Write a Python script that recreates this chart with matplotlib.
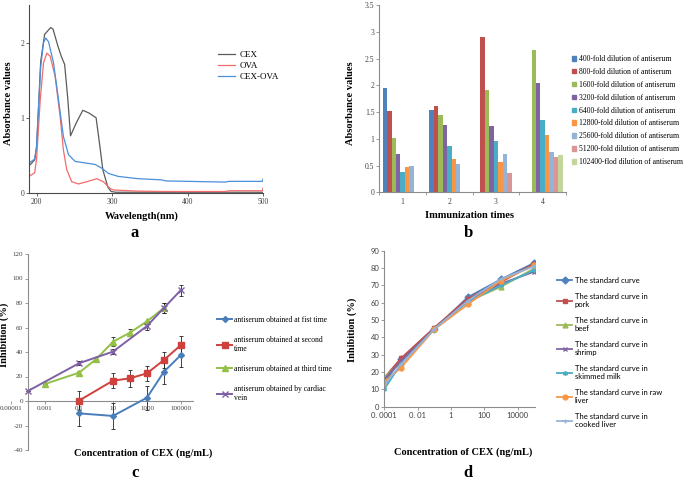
import numpy as np
import matplotlib
matplotlib.use("Agg")
import matplotlib.pyplot as plt
from matplotlib.patches import Patch
from matplotlib.ticker import NullLocator

plt.rcParams["font.family"] = ["Liberation Serif", "DejaVu Serif"]
plt.rcParams["axes.unicode_minus"] = False

# ---- panel a: UV spectra ----
wl_cex = [190, 197.5, 200, 205.5, 210.7, 218.7, 221.8, 228.4, 232.7, 237.2, 241.5, 245, 252.5,
          261.3, 270.1, 278.9, 283.4, 287.8, 294.4, 298.8, 305, 350, 400, 450, 500]
abs_cex = [0.36, 0.44, 0.6, 1.75, 2.11, 2.2, 2.18, 1.95, 1.82, 1.71, 1.24, 0.76, 0.93,
           1.1, 1.06, 1.0, 0.66, 0.31, 0.08, 0.02, 0.01, 0.01, 0.01, 0.01, 0.01]
wl_ova = [190, 197.5, 200, 204.9, 209.2, 213.6, 218, 224.6, 231.2, 235.6, 240, 246.6, 255.5,
          266.5, 279.7, 288.6, 297.4, 302, 334, 370, 400, 450, 455, 499, 500]
abs_ova = [0.22, 0.27, 0.45, 1.24, 1.73, 1.86, 1.82, 1.55, 1.02, 0.57, 0.31, 0.15, 0.12,
           0.15, 0.19, 0.15, 0.06, 0.04, 0.025, 0.02, 0.02, 0.02, 0.03, 0.03, 0.06]
wl_mix = [190, 197.5, 200, 205.5, 209.2, 212.3, 215.9, 222.5, 229.1, 235.6, 242.3, 251.1, 264.3,
          277.5, 286.4, 295.3, 308.5, 335, 365, 372, 400, 450, 455, 499, 500]
abs_mix = [0.4, 0.45, 0.62, 1.68, 2.0, 2.06, 2.01, 1.73, 1.24, 0.75, 0.51, 0.42, 0.4,
           0.38, 0.33, 0.26, 0.22, 0.19, 0.175, 0.16, 0.155, 0.145, 0.155, 0.155, 0.185]

# ---- panel b: titres ----
immunization = [1, 2, 3, 4]
dilutions = ["400", "800", "1600", "3200", "6400", "12800", "25600", "51200", "102400"]
nan = np.nan
titre = [
    [1.955, 1.54, nan, nan],
    [1.525, 1.62, 2.91, nan],
    [1.015, 1.44, 1.92, 2.665],
    [0.71, 1.25, 1.23, 2.04],
    [0.37, 0.865, 0.96, 1.345],
    [0.48, 0.63, 0.57, 1.065],
    [0.486, 0.52, 0.72, 0.747],
    [nan, nan, 0.355, 0.666],
    [nan, nan, nan, 0.697],
]
bar_colors = ["#4F81BD", "#C0504D", "#9BBB59", "#8064A2", "#4BACC6",
              "#F79646", "#95B3D7", "#D99694", "#C3D69B"]

# ---- panel c: inhibition of antisera ----
c_labels = ["antiserum obtained at fist time", "antiserum obtained at second\ntime",
            "antiserum obtained at third time", "antiserum obtained by cardiac\nvein"]
c_conc = [
    [0.1, 10, 1000, 10000, 100000],
    [0.1, 10, 100, 1000, 10000, 100000],
    [0.001, 0.1, 1, 10, 100, 1000, 10000],
    [0.0001, 0.1, 10, 1000, 10000, 100000],
]
c_inh = [
    [-10.1, -12.2, 2.7, 23.9, 37.6],
    [0.3, 16.6, 18.5, 22.6, 33.5, 45.7],
    [13.9, 23.1, 34.0, 48.4, 55.8, 65.0, 76.0],
    [8.2, 30.8, 40.3, 61.2, 76.0, 90.6],
]
c_err = [
    [10.0, 10.3, 9.8, 10.0, 9.6],
    [7.6, 6.0, 6.8, 6.2, 6.8, 7.3],
    [0, 1.0, 0.5, 3.5, 3.0, 0, 4.0],
    [0, 1.5, 2.0, 3.0, 4.0, 4.5],
]
c_colors = ["#4A7EBB", "#D0413E", "#93C047", "#7F5FA6"]
c_markers = ["D", "s", "^", "x"]
c_tick_vals = [1e-5, 1e-3, 1e-1, 10, 1000, 100000]
c_tick_text = ["0.00001", "0.001", "0.1", "10", "1000", "100000"]

# ---- panel d: standard curves in matrices ----
d_labels = ["The standard curve", "The standard curve in\npork", "The standard curve in\nbeef",
            "The standard curve in\nshrimp", "The standard curve in\nskimmed milk",
            "The standard curve in raw\nliver", "The standard curve in\ncooked liver"]
d_conc = [0.0001, 0.001, 0.1, 10, 1000, 100000]
d_inh = [
    [13.8, 27.3, 44.8, 63.1, 73.5, 83.0],
    [16.7, 27.9, 45.6, 62.3, 71.9, 82.5],
    [17.0, 25.4, 44.8, 60.6, 69.2, 79.8],
    [15.8, 26.3, 44.8, 61.3, 71.0, 77.9],
    [10.2, 24.6, 44.8, 60.4, 70.0, 78.8],
    [14.4, 22.5, 44.6, 59.0, 72.7, 81.5],
    [12.5, 24.4, 44.8, 61.0, 73.8, 81.0],
]
d_colors = ["#4F81BD", "#C0504D", "#9BBB59", "#8064A2", "#4BACC6", "#F79646", "#95B3D7"]
d_markers = ["D", "s", "^", "x", (6, 2, 0), "o", "+"]
d_tick_vals = [1e-4, 1e-2, 1, 100, 10000]
d_tick_text = ["0. 0001", "0. 01", "1", "100", "10000"]

W, H = 685, 480
TICK_COL = "#404040"
SPINE_COL = "#8c8c8c"
LABEL_KW = dict(fontsize=7.5, fontweight="bold")


def box(left, top, right, bottom):
    return [left / W, 1 - bottom / H, (right - left) / W, (bottom - top) / H]


def fig_anchor(x, y):
    return (x / W, 1 - y / H)


def style(ax, spine_col):
    for s in ["top", "right"]:
        ax.spines[s].set_visible(False)
    for s in ["left", "bottom"]:
        ax.spines[s].set_color(spine_col)
        ax.spines[s].set_linewidth(0.8)
    ax.tick_params(labelsize=5.5, colors=TICK_COL, length=2, width=0.6, pad=1.5)
    ax.tick_params(color=spine_col)


fig = plt.figure(figsize=(6.85, 4.8), dpi=100)

# a
ax = fig.add_axes(box(29, 5, 263, 193))
ax.plot(wl_cex, abs_cex, color="#5b5b5b", lw=0.9, label="CEX")
ax.plot(wl_ova, abs_ova, color="#f26b6b", lw=0.9, label="OVA")
ax.plot(wl_mix, abs_mix, color="#4a8fdc", lw=0.9, label="CEX-OVA")
ax.set_xlim(190, 500)
ax.set_ylim(0, 2.5)
ax.set_xticks([200, 300, 400, 500])
ax.set_yticks([0, 1, 2])
style(ax, "#4a4a4a")
ax.set_xlabel("Wavelength(nm)", **LABEL_KW)
ax.set_ylabel("Absorbance values", **LABEL_KW)
ax.xaxis.set_label_coords(0.481, -0.096)
ax.yaxis.set_label_coords(-0.067, 0.479)
ax.legend(loc="upper left", bbox_to_anchor=fig_anchor(218, 51), bbox_transform=fig.transFigure,
          frameon=False, fontsize=6.5, handlelength=1.9, handletextpad=0.55,
          labelspacing=0.3, borderpad=0, borderaxespad=0)
fig.text(135 / W, 1 - 233 / H, "a", fontsize=12, fontweight="bold", ha="center", va="center")

# b
ax = fig.add_axes(box(379.3, 5, 566, 192.3))
w = 1 / 10.5
cats = np.array(immunization, dtype=float)
for i, vals in enumerate(titre):
    ax.bar(cats + (i - 4) * w, vals, width=w, color=bar_colors[i], linewidth=0)
ax.set_xlim(0.5, 4.5)
ax.set_ylim(0, 3.5)
ax.set_yticks(np.arange(0, 3.51, 0.5))
ax.set_yticklabels(["{:g}".format(v) for v in np.arange(0, 3.51, 0.5)])
ax.set_xticks(immunization)
ax.set_xticks(np.arange(0.5, 4.6, 1), minor=True)
style(ax, SPINE_COL)
ax.tick_params(axis="x", which="major", length=0, pad=4)
ax.tick_params(axis="x", which="minor", length=2.5, width=0.6, color=SPINE_COL)
ax.set_xlabel("Immunization times", **LABEL_KW)
ax.set_ylabel("Absorbance values", **LABEL_KW)
ax.xaxis.set_label_coords(0.483, -0.1)
ax.yaxis.set_label_coords(-0.13, 0.476)
handles = [Patch(color=c) for c in bar_colors]
names = ["{}-fold dilution of antiserum".format(d) for d in dilutions[:-1]]
names.append("{}-flod dilution of antiserum".format(dilutions[-1]))
ax.legend(handles, names, loc="upper left", bbox_to_anchor=fig_anchor(572, 55),
          bbox_transform=fig.transFigure, frameon=False, fontsize=5.5, handlelength=0.55,
          handleheight=0.55, handletextpad=0.38, labelspacing=0.64, borderpad=0, borderaxespad=0)
fig.text(468 / W, 1 - 233 / H, "b", fontsize=12, fontweight="bold", ha="center", va="center")

# c
ax = fig.add_axes(box(2, 254, 193, 450))
ax.set_xscale("log")
for conc, inh, err, col, mk, lab in zip(c_conc, c_inh, c_err, c_colors, c_markers, c_labels):
    ax.errorbar(conc, inh, yerr=err, fmt="none", ecolor="#222222", elinewidth=0.6,
                capsize=1.5, capthick=0.6, zorder=2)
    ax.plot(conc, inh, color=col, lw=1.4, marker=mk, markersize=3.8 if mk != "D" else 3,
            markeredgewidth=1.0, label=lab, zorder=3)
ax.set_xlim(10 ** -5.53, 10 ** 5.71)
ax.set_ylim(-40, 120)
ax.set_yticks(range(-40, 121, 20))
ax.set_xticks(c_tick_vals)
ax.set_xticklabels(c_tick_text)
ax.xaxis.set_minor_locator(NullLocator())
style(ax, SPINE_COL)
ax.tick_params(labelsize=5)
ax.spines["left"].set_position(("data", 1e-4))
ax.spines["bottom"].set_position(("data", 0))
ax.spines["bottom"].set_bounds(1e-4, 10 ** 5.71)
ax.set_xlabel("Concentration of CEX (ng/mL)", **LABEL_KW)
ax.set_ylabel("Inhibition (%)", **LABEL_KW)
ax.xaxis.set_label_coords(0.737, 0.01)
ax.yaxis.set_label_coords(0.039, 0.587)
ax.legend(loc="upper left", bbox_to_anchor=fig_anchor(217, 316), bbox_transform=fig.transFigure,
          frameon=False, fontsize=5.5, handlelength=2.0, handletextpad=0.2,
          labelspacing=1.55, borderpad=0, borderaxespad=0)
fig.text(135 / W, 1 - 473 / H, "c", fontsize=12, fontweight="bold", ha="center", va="center")

# d
ax = fig.add_axes(box(384.3, 250.7, 535, 406.7))
ax.set_xscale("log")
for inh, col, mk, lab in zip(d_inh, d_colors, d_markers, d_labels):
    ax.plot(d_conc, inh, color=col, lw=1.3, marker=mk, markersize=3.5,
            markeredgewidth=1.0, label=lab)
ax.set_xlim(1e-4, 10 ** 5.04)
ax.set_ylim(0, 90)
ax.set_yticks(range(0, 91, 10))
ax.set_xticks(d_tick_vals)
ax.set_xticklabels(d_tick_text)
ax.xaxis.set_minor_locator(NullLocator())
style(ax, SPINE_COL)
for t in ax.get_xticklabels() + ax.get_yticklabels():
    t.set_fontfamily("Lato")
ax.set_xlabel("Concentration of CEX (ng/mL)", **LABEL_KW)
ax.set_ylabel("Inhibition (%)", **LABEL_KW)
ax.xaxis.set_label_coords(0.525, -0.263)
ax.yaxis.set_label_coords(-0.179, 0.494)
ax.legend(loc="upper left", bbox_to_anchor=fig_anchor(557, 277), bbox_transform=fig.transFigure,
          frameon=False, prop={"family": "Lato", "size": 5.5}, handlelength=2.0,
          handletextpad=0.3, labelspacing=1.15, borderpad=0, borderaxespad=0)
fig.text(468 / W, 1 - 473 / H, "d", fontsize=12, fontweight="bold", ha="center", va="center")

fig.savefig("out.png", dpi=100)
